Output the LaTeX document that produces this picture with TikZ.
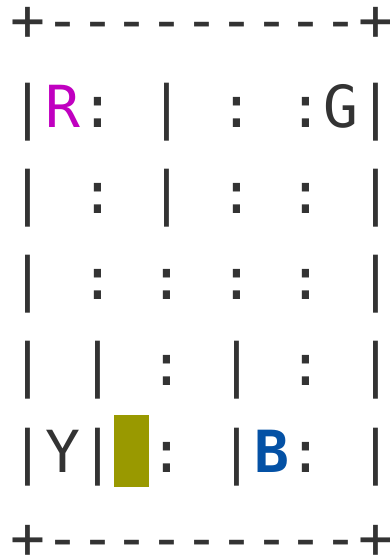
\documentclass[tikz,border=0pt]{standalone}
\usepackage{fontspec}
\newfontfamily\gridfont{DejaVu Sans Mono}
\definecolor{txt}{HTML}{333333}
\definecolor{locR}{HTML}{C000C0}
\definecolor{locB}{HTML}{0451A5}
\definecolor{taxi}{HTML}{999900}
\begin{document}
\begin{tikzpicture}[x=1pt,y=1pt,
  ch/.style={anchor=base, inner sep=0pt, outer sep=0pt,
    font=\gridfont\fontsize{58}{58}\selectfont, text=txt}]
\useasboundingbox (0,0) rectangle (390,-555);
\node[fill=taxi, inner sep=0pt, minimum width=34.8pt, minimum height=72pt, anchor=north west] (taxi) at (114,-415) {};
% row 0
\foreach \c/\t in {0/+,1/-,2/-,3/-,4/-,5/-,6/-,7/-,8/-,9/-,10/+}
  \node[ch] (n0-\c) at ({28+34.8*\c},{-(127-86.25)}) {\t};
% row 1
\foreach \c/\t in {0/|,2/:,4/|,6/:,8/:,9/G,10/|}
  \node[ch] (n1-\c) at ({28+34.8*\c},-127) {\t};
\node[ch, text=locR] (n1-1) at ({28+34.8},-127) {R};
% row 2
\foreach \c/\t in {0/|,2/:,4/|,6/:,8/:,10/|}
  \node[ch] (n2-\c) at ({28+34.8*\c},{-(127+86.25)}) {\t};
% row 3
\foreach \c/\t in {0/|,2/:,4/:,6/:,8/:,10/|}
  \node[ch] (n3-\c) at ({28+34.8*\c},{-(127+2*86.25)}) {\t};
% row 4
\foreach \c/\t in {0/|,2/|,4/:,6/|,8/:,10/|}
  \node[ch] (n4-\c) at ({28+34.8*\c},{-(127+3*86.25)}) {\t};
% row 5
\foreach \c/\t in {0/|,1/Y,2/|,4/:,6/|,8/:,10/|}
  \node[ch] (n5-\c) at ({28+34.8*\c},{-(127+4*86.25)}) {\t};
\node[ch, text=locB, font=\gridfont\bfseries\fontsize{58}{58}\selectfont] (n5-7) at ({28+34.8*7},{-(127+4*86.25)}) {B};
% row 6
\foreach \c/\t in {0/+,1/-,2/-,3/-,4/-,5/-,6/-,7/-,8/-,9/-,10/+}
  \node[ch] (n6-\c) at ({28+34.8*\c},{-(127+5*86.25)}) {\t};
\end{tikzpicture}
\end{document}
